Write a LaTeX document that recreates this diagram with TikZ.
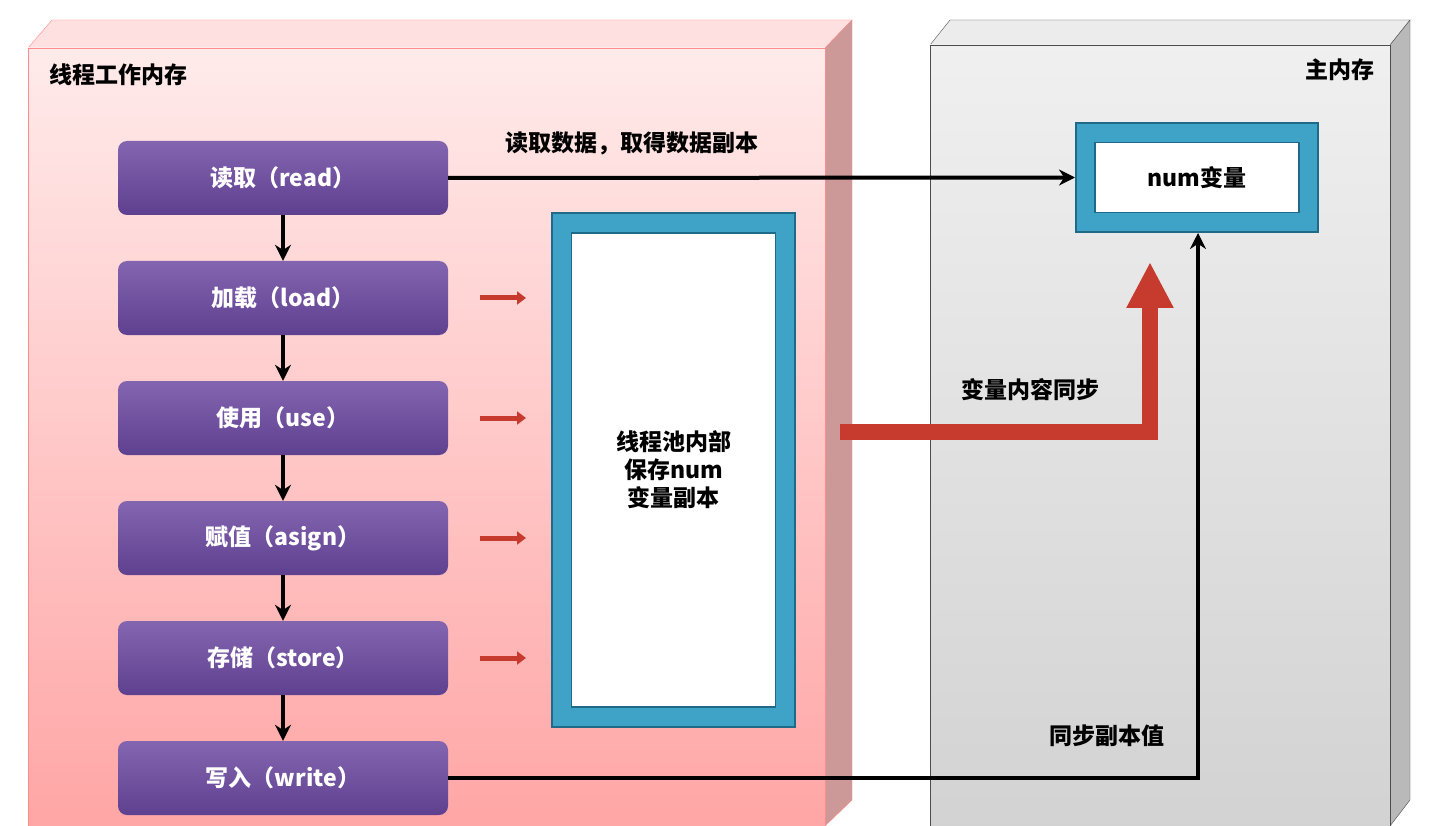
\documentclass[tikz,border=0pt]{standalone}
\usepackage{fontspec}
\setmainfont{Noto Sans CJK SC}
\usetikzlibrary{arrows.meta}
\definecolor{ptop}{HTML}{8465B0}
\definecolor{pbot}{HTML}{5E4090}
\definecolor{tealf}{HTML}{3FA3C8}
\definecolor{teald}{HTML}{1F6A88}
\definecolor{redarr}{HTML}{C63B2E}
\begin{document}
\begin{tikzpicture}[x=1pt,y=-1pt,
  stepbox/.style={rounded corners=9pt,top color=ptop,bottom color=pbot,draw=none,minimum width=330pt,minimum height=74pt,text=white,font=\fontsize{23}{27}\selectfont\bfseries},
  lbl/.style={font=\fontsize{23}{28}\selectfont\bfseries,text=black},
  blk/.style={-{Stealth[length=16pt,width=16pt]},line width=4pt},
  redsm/.style={-{Triangle[length=9pt,width=13pt]},line width=5pt,draw=redarr}]
\useasboundingbox (0,0) rectangle (1435,826);
\fill[white] (0,0) rectangle (1435,826);
% left box
\fill[red!12,draw=red!45] (28,48)--(52,20)--(852,20)--(825,48)--cycle;
\fill[red!35!gray!60,draw=red!45] (825,48)--(852,20)--(852,800)--(825,826)--cycle;
\shade[top color=red!8,bottom color=red!35,draw=red!45] (28,48) rectangle (825,826);
% right box
\fill[gray!15,draw=black!70] (930,45)--(950,20)--(1410,20)--(1390,45)--cycle;
\fill[gray!55,draw=black!70] (1390,45)--(1410,20)--(1410,800)--(1390,826)--cycle;
\shade[top color=gray!12,bottom color=gray!35,draw=black!70] (930,45) rectangle (1390,826);
\node[lbl,anchor=west] (t1) at (46,75) {线程工作内存};
\node[lbl,anchor=east] (t2) at (1378,70) {主内存};
% steps
\node[stepbox] (s1) at (283,178) {读取（read）};
\node[stepbox] (s2) at (283,298) {加载（load）};
\node[stepbox] (s3) at (283,418) {使用（use）};
\node[stepbox] (s4) at (283,538) {赋值（asign）};
\node[stepbox] (s5) at (283,658) {存储（store）};
\node[stepbox] (s6) at (283,778) {写入（write）};
\foreach \a/\b in {s1/s2,s2/s3,s3/s4,s4/s5,s5/s6} \draw[blk] (\a) -- (\b);
% pool
\node[draw=teald,fill=tealf,line width=2pt,minimum width=243pt,minimum height=514pt] (pool) at (673.5,470) {};
\node[fill=white,draw=teald,line width=1.5pt,minimum width=204pt,minimum height=474pt,align=center,lbl] (poolin) at (673.5,470) {线程池内部\\保存num\\变量副本};
\foreach \y in {298,418,538,658} {
  \coordinate (a\y) at (480,\y); \coordinate (b\y) at (526,\y);
  \draw[redsm] (a\y) -- (b\y);}
% num
\node[draw=teald,fill=tealf,line width=2pt,minimum width=242pt,minimum height=109pt] (num) at (1197,177.5) {};
\node[fill=white,draw=teald,line width=1.5pt,minimum width=204pt,minimum height=70pt,lbl] (numin) at (1197,177.5) {num变量};
\draw[blk] (s1.east) -- (num.west);
\draw[blk] (s6.east) -| (num.south -| 1198,0);
% red thick arrow
\coordinate (r0) at (840,432);
\coordinate (r1) at (1150,262);
\draw[line width=16pt,draw=redarr,-{Triangle[length=46pt,width=44pt]}] (r0) -- (1150,432) -- (r1);
% labels
\node[lbl] (l1) at (632,143) {读取数据，取得数据副本};
\node[lbl] (l2) at (1030,390) {变量内容同步};
\node[lbl] (l3) at (1107,736) {同步副本值};
\end{tikzpicture}
\end{document}
